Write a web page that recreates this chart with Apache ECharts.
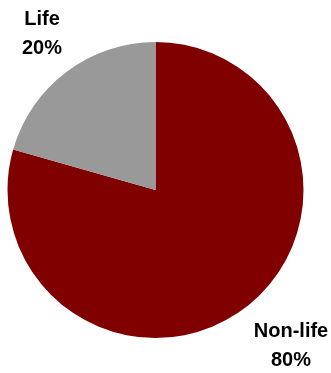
<!DOCTYPE html>
<html><head><meta charset="utf-8">
<script src="https://cdn.jsdelivr.net/npm/echarts@6/dist/echarts.min.js"></script>
<style>html,body{margin:0;padding:0;background:#fff}#c{width:331px;height:373px}</style>
</head><body><div id="c"></div>
<script>
const categories = ['Non-life', 'Life'];
const values = [79.4, 20.6];
const percentLabels = ['80%', '20%'];
const colors = ['#800000', '#999999'];
const labelPos = [[291, 346], [42, 34]];

const chart = echarts.init(document.getElementById('c'), null, {renderer: 'canvas'});
chart.setOption({
  animation: false,
  series: [{
    type: 'pie',
    center: [155.5, 190],
    radius: [0, 148],
    startAngle: 90,
    clockwise: true,
    data: categories.map((n, i) => ({name: n, value: values[i], itemStyle: {color: colors[i]}})),
    label: {
      show: true,
      position: 'outside',
      alignTo: 'none',
      overflow: 'none',
      formatter: p => p.name + '\n' + percentLabels[p.dataIndex],
      fontFamily: 'Liberation Sans, Arial, sans-serif',
      fontWeight: 'bold',
      fontSize: 20,
      lineHeight: 29,
      color: '#000',
      align: 'center'
    },
    labelLine: {show: false},
    labelLayout: function (params) {
      const p = labelPos[params.dataIndex];
      return {x: p[0], y: p[1], align: 'center', verticalAlign: 'middle', hideOverlap: false};
    },
    emphasis: {disabled: true}
  }]
});
</script></body></html>
